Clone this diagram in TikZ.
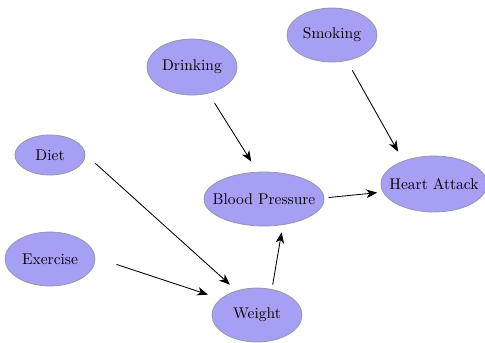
\documentclass[tikz,border=0pt]{standalone}
\usetikzlibrary{shapes.geometric,arrows.meta}
\definecolor{nodefill}{RGB}{166,160,245}
\definecolor{nodeline}{RGB}{150,150,160}
\begin{document}
\begin{tikzpicture}[x=0.645pt,y=-0.645pt,
  ent/.style={ellipse, draw=nodeline, line width=0.5pt, fill=nodefill, inner sep=0pt},
  conn/.style={-{Stealth[length=7pt,width=5.5pt,inset=2pt]}, line width=0.55pt, black}]
\useasboundingbox (0,0) rectangle (485,342);
\node[ent, minimum width=58pt, minimum height=34.8pt] (smk) at (332,35) {\makebox[0pt]{Smoking}};
\node[ent, minimum width=58pt, minimum height=36.1pt] (drk) at (192,67) {\makebox[0pt]{Drinking}};
\node[ent, minimum width=45.2pt, minimum height=25.8pt] (diet) at (50,155) {\makebox[0pt]{Diet}};
\node[ent, minimum width=77.4pt, minimum height=34.8pt] (bp) at (264,199) {\makebox[0pt]{Blood Pressure}};
\node[ent, minimum width=68.4pt, minimum height=36.1pt] (ha) at (434,184) {\makebox[0pt]{Heart Attack}};
\node[ent, minimum width=58pt, minimum height=34.8pt] (ex) at (50,259) {\makebox[0pt]{Exercise}};
\node[ent, minimum width=58pt, minimum height=34.8pt] (wt) at (257,315) {\makebox[0pt]{Weight}};
\draw[conn, shorten <=7pt, shorten >=6.8pt] (smk.-60) -- (ha.143.5);
\draw[conn, shorten <=7.45pt, shorten >=7.75pt] (drk.-58.75) -- (bp.103.8);
\draw[conn, shorten <=8.75pt, shorten >=5.7pt] (diet.1.8) -- (wt.130.2);
\draw[conn, shorten <=14.4pt, shorten >=8.5pt] (ex.2.7) -- (wt.156.6);
\draw[conn, shorten <=2.9pt, shorten >=4.8pt] (wt.60.8) -- (bp.-54.7);
\draw[conn, shorten <=2.7pt, shorten >=3.6pt] (bp.1.6) -- (ha.189.7);
\end{tikzpicture}
\end{document}
